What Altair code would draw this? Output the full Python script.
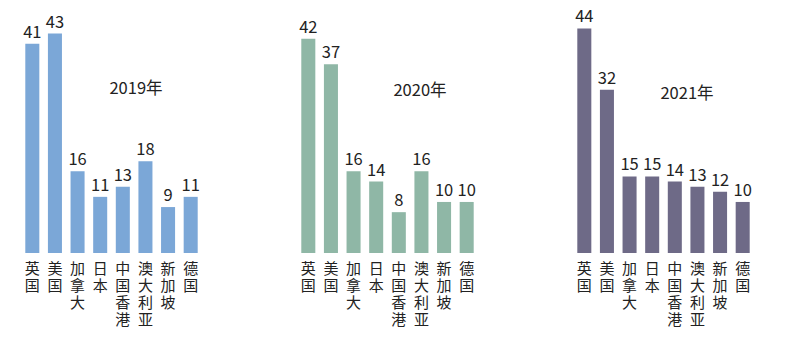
import altair as alt
import pandas as pd

categories = ["英国", "美国", "加拿大", "日本", "中国香港", "澳大利亚", "新加坡", "德国"]
v2019 = [41, 43, 16, 11, 13, 18, 9, 11]
v2020 = [42, 37, 16, 14, 8, 16, 10, 10]
v2021 = [44, 32, 15, 15, 14, 13, 12, 10]
years = ["2019年", "2020年", "2021年"]
colors = ["#7BA7D7", "#8FB7A6", "#6E6A87"]
year_label_pos = [(115, 81), (123, 83), (114, 86)]

FONT = "Noto Sans CJK SC"


def panel(values, year, color, pos):
    df = pd.DataFrame({"cat": categories, "val": values})
    x = alt.X("cat:N", sort=categories, title=None,
              scale=alt.Scale(paddingInner=0.38, paddingOuter=0.19),
              axis=alt.Axis(labelAngle=0, domain=False, ticks=False,
                            labelExpr="split(datum.label, '')",
                            labelFont=FONT, labelFontSize=15,
                            labelLineHeight=17, labelPadding=8,
                            labelColor="#222222", labelBaseline="top"))
    y = alt.Y("val:Q", title=None, axis=None,
              scale=alt.Scale(domain=[0, 48], nice=False))
    base = alt.Chart(df).encode(x=x, y=y)
    bars = base.mark_bar(color=color)
    nums = base.mark_text(dy=-6, baseline="alphabetic", font=FONT,
                          fontSize=16.5, color="#222222").encode(text="val:Q")
    ylab = alt.Chart(pd.DataFrame({"t": [year]})).mark_text(
        font=FONT, fontSize=16.5, color="#222222", baseline="middle", align="center"
    ).encode(x=alt.value(pos[0]), y=alt.value(pos[1]), text="t:N")
    return alt.layer(bars, nums, ylab).properties(width=181, height=245)


chart = alt.hconcat(
    panel(v2019, years[0], colors[0], year_label_pos[0]),
    panel(v2020, years[1], colors[1], year_label_pos[1]),
    panel(v2021, years[2], colors[2], year_label_pos[2]),
    spacing=95,
).properties(
    padding={"left": 21, "top": 8, "right": 5, "bottom": 5},
    background="white",
).configure_view(stroke=None)

chart.save("out.html", embed_options={"renderer": "svg", "actions": False})
